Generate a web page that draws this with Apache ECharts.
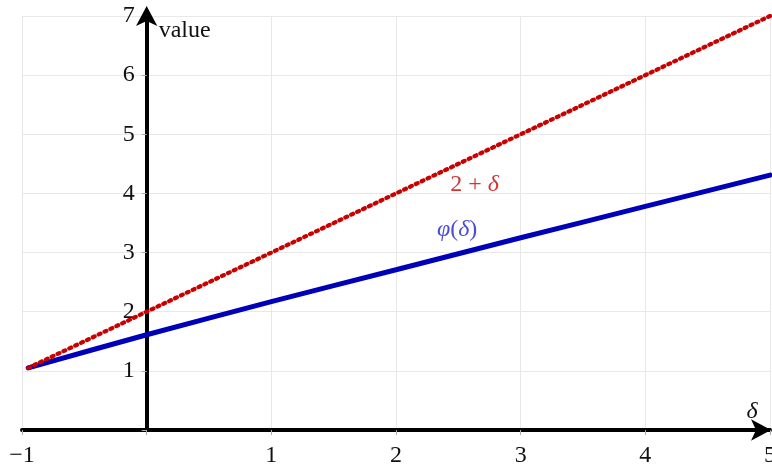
<!DOCTYPE html>
<html>
<head>
<meta charset="utf-8">
<script src="https://cdn.jsdelivr.net/npm/echarts@6/dist/echarts.min.js"></script>
<style>html,body{margin:0;padding:0;background:#fff;}#c{width:772px;height:468px;}</style>
</head>
<body>
<div id="c"></div>
<script>
// Data
const xTicks = [-1, 0, 1, 2, 3, 4, 5];
const yTicks = [0, 1, 2, 3, 4, 5, 6, 7];
const phiX = [-0.95, 0, 1, 2, 3, 4, 5];
const phiY = [1.05, 1.61, 2.17, 2.71, 3.25, 3.78, 4.31];
const lineX = [-0.95, 5];
const lineY = [1.05, 7];
const labelRed = { text: '2 + {i|δ}', x: 2.63, y: 4.14 };
const labelBlue = { text: '{i|φ}({i|δ})', x: 2.49, y: 3.38 };

const serif = '"Liberation Serif", "DejaVu Serif", serif';
const fmtNum = v => v === 0 ? '' : (v < 0 ? '\u2212' + (-v) : String(v));
const FS = 24;

const chart = echarts.init(document.getElementById('c'));
const option = {
  animation: false,
  backgroundColor: '#fff',
  grid: { left: 22, right: 2, top: 16, bottom: 38, containLabel: false, outerBoundsMode: 'none' },
  xAxis: {
    type: 'value', min: xTicks[0], max: xTicks[xTicks.length - 1], interval: 1,
    name: 'δ', nameLocation: 'end', nameGap: -18,
    nameTextStyle: { fontFamily: serif, fontStyle: 'italic', fontSize: FS, color: '#111', align: 'center', verticalAlign: 'bottom', padding: [0, 0, 6, 0] },
    axisLine: { show: true, onZero: true, lineStyle: { color: '#000', width: 4 }, symbol: ['none', 'arrow'], symbolSize: [16, 20], symbolOffset: [0, 1] },
    axisTick: { show: true, length: 5, lineStyle: { color: '#aaa', width: 1 } },
    axisLabel: { formatter: fmtNum, fontFamily: serif, fontSize: FS, color: '#111', margin: 14 },
    splitLine: { show: true, lineStyle: { color: '#e8e8e8', width: 1 } }
  },
  yAxis: {
    type: 'value', min: yTicks[0], max: yTicks[yTicks.length - 1], interval: 1,
    name: 'value', nameLocation: 'end', nameGap: -3,
    nameTextStyle: { fontFamily: serif, fontSize: FS, color: '#111', align: 'left', verticalAlign: 'top', padding: [0, 0, 0, 12] },
    axisLine: { show: true, onZero: true, lineStyle: { color: '#000', width: 4 }, symbol: ['none', 'arrow'], symbolSize: [16, 20], symbolOffset: [0, 10] },
    axisTick: { show: true, length: 5, lineStyle: { color: '#aaa', width: 1 } },
    axisLabel: { formatter: fmtNum, fontFamily: serif, fontSize: FS, color: '#111', margin: 14 },
    splitLine: { show: true, lineStyle: { color: '#e8e8e8', width: 1 } }
  },
  series: [
    {
      type: 'line', data: phiX.map((x, i) => [x, phiY[i]]), showSymbol: false, z: 3, smooth: 0.3,
      lineStyle: { color: '#0000b8', width: 5, cap: 'round' }
    },
    {
      type: 'line', data: lineX.map((x, i) => [x, lineY[i]]), showSymbol: false, z: 4,
      lineStyle: { color: '#c80000', width: 4.2, type: [2, 4.5], cap: 'round' }
    },
    {
      type: 'scatter', symbolSize: 0, z: 5,
      data: [
        { value: [labelRed.x, labelRed.y], label: { show: true, formatter: labelRed.text, color: '#c80000', rich: { i: { fontFamily: serif, fontStyle: 'italic', fontSize: FS, color: '#c80000' } } } },
        { value: [labelBlue.x, labelBlue.y], label: { show: true, formatter: labelBlue.text, color: '#2020c8', rich: { i: { fontFamily: serif, fontStyle: 'italic', fontSize: FS, color: '#2020c8' } } } }
      ],
      label: { position: 'inside', fontFamily: serif, fontSize: FS }
    }
  ]
};
chart.setOption(option);
// move y labels next to the y axis line drawn at x = 0
const px0 = chart.convertToPixel({ xAxisIndex: 0 }, 0);
const pxMin = chart.convertToPixel({ xAxisIndex: 0 }, xTicks[0]);
chart.setOption({ yAxis: { axisLabel: { margin: 12 - (px0 - pxMin) } } });
</script>
</body>
</html>
